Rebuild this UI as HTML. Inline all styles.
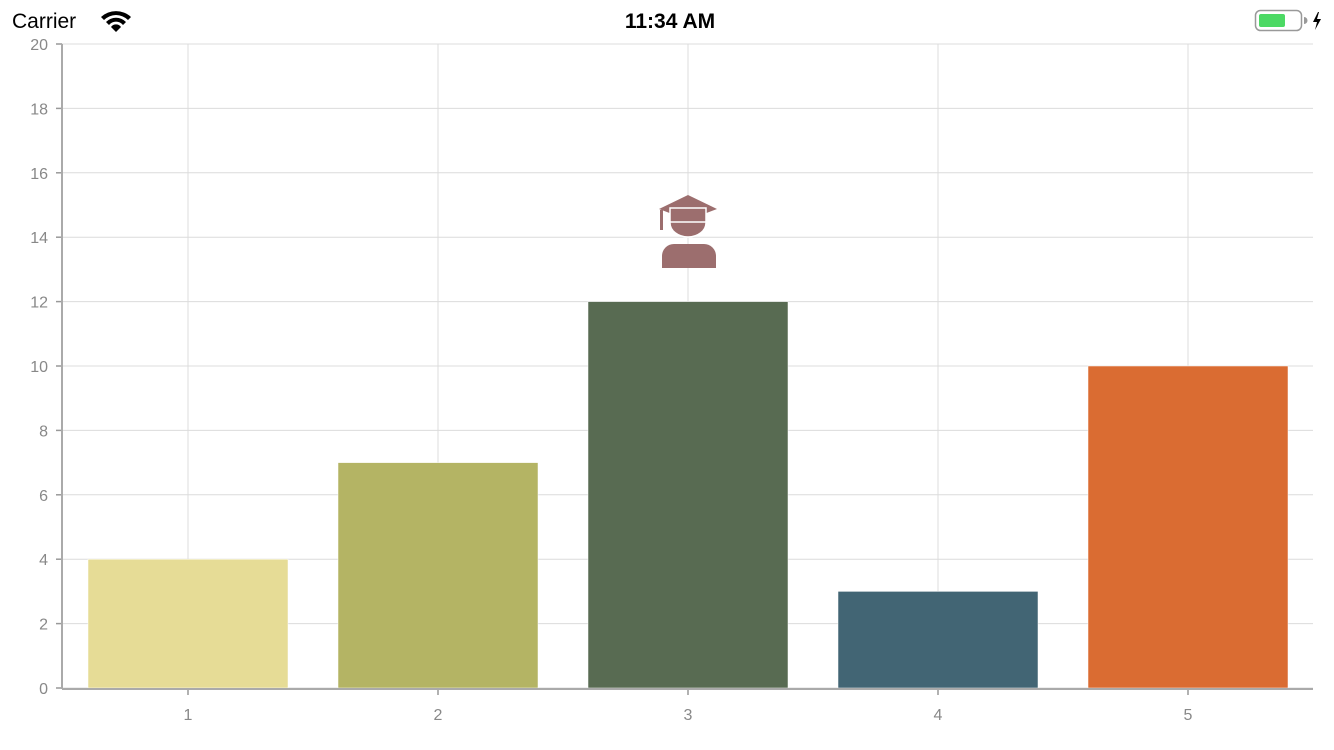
<!DOCTYPE html>
<html><head><meta charset="utf-8"><style>
html,body{margin:0;padding:0;background:#fff;width:1334px;height:750px;overflow:hidden;font-family:"Liberation Sans",sans-serif}
</style></head><body>
<svg width="1334" height="750" viewBox="0 0 1334 750" xmlns="http://www.w3.org/2000/svg">
<g>
<text x="12" y="28" font-size="21" fill="#000">Carrier</text>
<g fill="#000">
<path d="M101 17 A22 22 0 0 1 131 17 L128 20 A17 17 0 0 0 104 20Z"/>
<path d="M106 22 A14 14 0 0 1 126 22 L123 25 A9 9 0 0 0 109 25Z"/>
<path d="M111 27 A6 6 0 0 1 121 27 L116 32Z"/>
</g>
<text x="670" y="28" font-size="21" font-weight="bold" text-anchor="middle" fill="#000">11:34 AM</text>
<g>
<rect x="1255.5" y="10.5" width="46" height="20" rx="5" fill="none" stroke="#999" stroke-width="1.5"/>
<rect x="1259" y="14" width="26" height="13" rx="2" fill="#4cd964"/>
<path d="M1304 17 v7 a3 3 0 0 0 0 -7z" fill="#999"/>
<path d="M1318 12 l-5 10 h4 l-2 8 l6 -11 h-4 l2 -7z" fill="#000"/>
</g>
</g>
<g id="grid"></g>
<g id="bars"></g>
<g id="axes"></g>
<g fill="#9c6e6e">
<path d="M688 195 L717 209 L688 220 L659 209Z"/>
<rect x="660" y="210" width="3" height="20"/>
<path d="M670 208 h36 v15 a18 14 0 0 1 -36 0z" stroke="#fff" stroke-width="1.5"/>
<line x1="670" y1="222" x2="706" y2="222" stroke="#fff" stroke-width="1.5"/>
<path d="M661 269 v-12 a12 12 0 0 1 12 -12 h30 a12 12 0 0 1 12 12 v12z" transform="translate(1,-1)"/>
</g>
</svg>
<script>
const categories=["1","2","3","4","5"];
const values=[4,7,12,3,10];
const colors=["#e6dc96","#b4b464","#586b52","#426574","#da6c32"];
const yTicks=[0,2,4,6,8,10,12,14,16,18,20];
const NS="http://www.w3.org/2000/svg";
const L=62,R=1313,T=44,B=688,yMax=20;
const ys=v=>B-(v/yMax)*(B-T);
const step=250;
const xs=i=>63+step*(i+0.5);
function mk(t,a,p){const e=document.createElementNS(NS,t);for(const k in a)e.setAttribute(k,a[k]);p.appendChild(e);return e;}
const g=document.getElementById('grid'),b=document.getElementById('bars'),ax=document.getElementById('axes');
yTicks.forEach(v=>{
 const l=mk('line',{x1:L,x2:R,y1:ys(v),y2:ys(v),stroke:'#dcdcdc','stroke-width':1},g);
 
 
 const tk=mk('line',{x1:56,x2:L,y1:ys(v),y2:ys(v),stroke:'#999','stroke-width':1.5},ax);
 
 
 const t=mk('text',{x:48,y:ys(v)+6,'font-size':16,fill:'#888','text-anchor':'end'},ax);
 t.textContent=v;
 
 
});
categories.forEach((c,i)=>{
 const x=xs(i);
 const l=mk('line',{x1:x,x2:x,y1:T,y2:B,stroke:'#dcdcdc','stroke-width':1},g);
 
 
 const r=mk('rect',{x:x-100,y:ys(values[i]),width:200,height:B-ys(values[i]),fill:colors[i],stroke:'#fff','stroke-width':0.5},b);
 
 
 const tk=mk('line',{x1:x,x2:x,y1:B,y2:B+7,stroke:'#999','stroke-width':1.5},ax);
 
 
 const t=mk('text',{x:x,y:720,'font-size':16,fill:'#888','text-anchor':'middle'},ax);
 t.textContent=c;
 
 
});
const ya=mk('line',{x1:L,x2:L,y1:T,y2:B+1,stroke:'#aaa','stroke-width':2},ax);


const xa=mk('line',{x1:L,x2:R,y1:B+1,y2:B+1,stroke:'#aaa','stroke-width':2},ax);


</script>
</body></html>
